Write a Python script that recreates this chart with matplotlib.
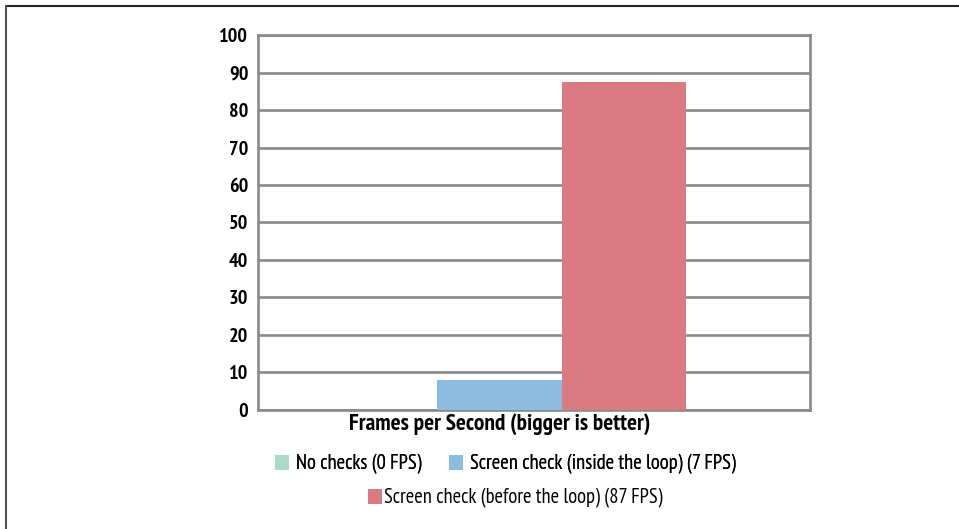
import matplotlib.pyplot as plt
from matplotlib import font_manager
from matplotlib.patches import Patch
from matplotlib.lines import Line2D

# data
series_labels = ['No checks (0 FPS)',
                 'Screen check (inside the loop) (7 FPS)',
                 'Screen check (before the loop) (87 FPS)']
values = [0, 8, 87.5]
colors = ['#a9dcc5', '#8cbde0', '#d97b80']
category = 'Frames per Second (bigger is better)'
yticks = [0, 10, 20, 30, 40, 50, 60, 70, 80, 90, 100]

# pick a condensed face that is actually installed
installed = {f.name for f in font_manager.fontManager.ttflist}
wanted = ['PT Sans Narrow', 'Fira Sans Condensed', 'Roboto Condensed',
          'Asap Condensed', 'Encode Sans Condensed', 'Liberation Sans Narrow']
narrow = [n for n in wanted if n in installed][:1]
plt.rcParams['font.family'] = narrow + ['DejaVu Sans']

fig = plt.figure(figsize=(9.59, 5.29), dpi=100)
ax = fig.add_axes([0.269, 0.225, 0.5756, 0.7088])

grid_c = '#8a8a8a'
for i, v in enumerate(values):
    ax.bar(i, v, width=1.0, color=colors[i], zorder=3)

ax.set_ylim(0, 100)
ax.set_xlim(-0.944, 3.5)
ax.set_yticks(yticks)
ax.set_yticklabels([str(t) for t in yticks], fontsize=14.5, fontweight='bold')
ax.set_xticks([1])
ax.set_xticklabels([category], fontsize=16.8, fontweight='bold')
ax.tick_params(length=0, pad=7)
ax.tick_params(axis='x', pad=2)
ax.yaxis.grid(True, color=grid_c, linewidth=1.9, zorder=0)
for s in ax.spines.values():
    s.set_color(grid_c)
    s.set_linewidth(1.9)

handles = [Patch(facecolor=c, edgecolor='none') for c in colors]
leg1 = fig.legend(handles[:2], series_labels[:2], ncol=2, loc='center',
                  bbox_to_anchor=(0.527, 0.122), frameon=False, fontsize=14.8,
                  handlelength=0.7, handleheight=0.7, handletextpad=0.35,
                  columnspacing=1.3)
fig.add_artist(leg1)
fig.legend(handles[2:], series_labels[2:], loc='center',
           bbox_to_anchor=(0.537, 0.058), frameon=False, fontsize=14.8,
           handlelength=0.7, handleheight=0.7, handletextpad=0.1)

# page border (top and left)
fig.add_artist(Line2D([0.006, 1.0], [0.988, 0.988], color='#222222', linewidth=1.5,
                      transform=fig.transFigure))
fig.add_artist(Line2D([0.006, 0.006], [0.0, 0.988], color='#555555', linewidth=1.5,
                      transform=fig.transFigure))

fig.savefig('out.png', dpi=100)
